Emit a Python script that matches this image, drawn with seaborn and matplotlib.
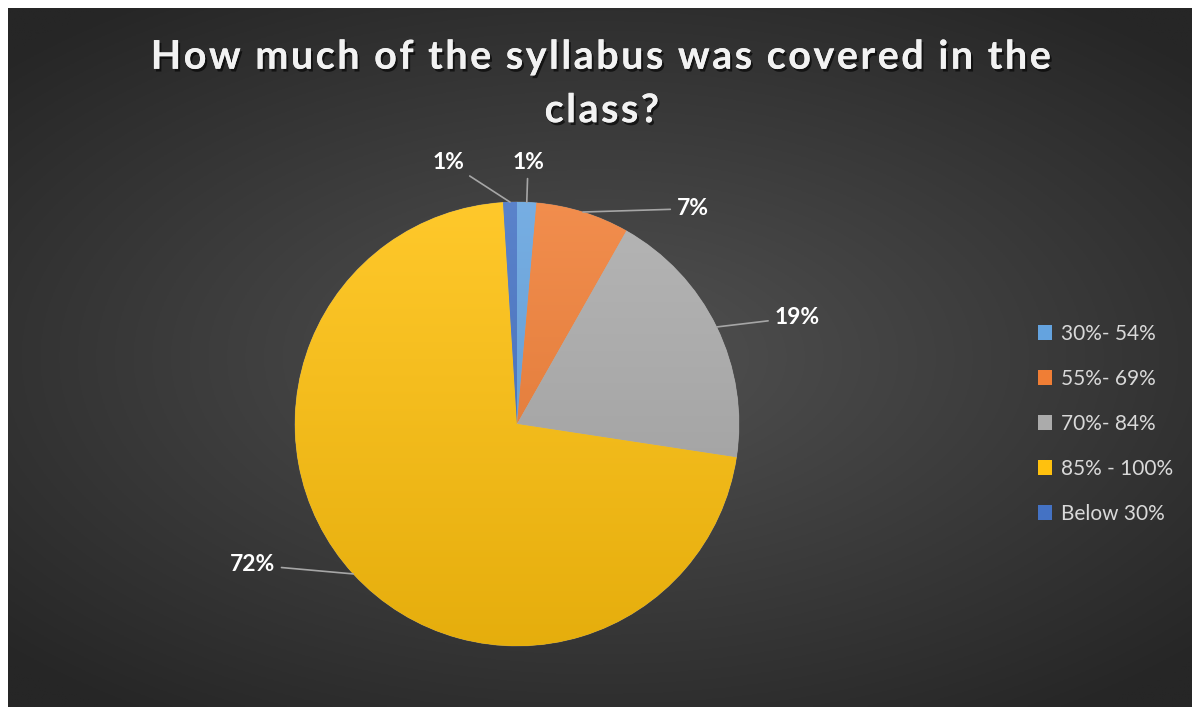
import numpy as np
import matplotlib
matplotlib.use('Agg')
import matplotlib.pyplot as plt
import matplotlib.patheffects as pe
from matplotlib.colors import to_rgb
import seaborn as sns

# data (share of responses, %)
categories = ['30%- 54%', '55%- 69%', '70%- 84%', '85% - 100%', 'Below 30%']
shares = [1.4, 6.8, 19.2, 71.6, 1.0]
shown_labels = ['1%', '7%', '19%', '72%', '1%']
colors = ['#64A3DF', '#F07E35', '#ABABAB', '#FFC10E', '#4472C4']
title_lines = ['How much of the syllabus was covered in the', 'class?']

# label offsets in pie-radius units (layout only)
label_pos = [(0.05, 1.18), (0.79, 0.97), (1.26, 0.48), (-1.19, -0.635), (-0.31, 1.18)]

sns.set_theme(style='white')
plt.rcParams['font.family'] = ['Lato', 'DejaVu Sans']

W, H = 1192, 707
fig = plt.figure(figsize=(W / 100, H / 100), dpi=100)
fig.patch.set_facecolor('white')

# dark radial background, white strip at left/top like the reference
bg = fig.add_axes([8 / W, 0, 1 - 8 / W, 1 - 8 / H])
yy, xx = np.mgrid[-1:1:300j, -1:1:500j]
rr = np.sqrt((xx * 0.9) ** 2 + (yy * 1.0) ** 2)
rr = np.clip(rr / 1.25, 0, 1)
c_in, c_out = np.array([0x52, 0x52, 0x52]) / 255, np.array([0x26, 0x26, 0x26]) / 255
img = c_in[None, None, :] * (1 - rr[..., None]) + c_out[None, None, :] * rr[..., None]
bg.imshow(img, aspect='auto', extent=(0, 1, 0, 1))
bg.set_axis_off()

# pie axes: center ~(517, 424) px, radius ~222 px
r_px = 222
span = 1.5
size = 2 * span * r_px
ax = fig.add_axes([(517 - size / 2) / W, (H - 424 - size / 2) / H, size / W, size / H])
ax.set_axis_off()

wedges, _ = ax.pie(shares, colors=colors, startangle=90, counterclock=False,
                   radius=1, wedgeprops=dict(linewidth=0.6, edgecolor=(1, 1, 1, 0.25)))

# vertical gradient inside each wedge
grad = np.linspace(0, 1, 256)[:, None]
for w, c in zip(wedges, colors):
    base = np.array(to_rgb(c))
    top = base + (1 - base) * 0.12
    bot = base * 0.9
    g = top[None, None, :] * (1 - grad[..., None]) + bot[None, None, :] * grad[..., None]
    g = np.repeat(g, 2, axis=1)
    im = ax.imshow(g, extent=(-1, 1, -1, 1), aspect='auto', zorder=w.get_zorder() + 0.1)
    im.set_clip_path(w)
ax.set_xlim(-span, span)
ax.set_ylim(-span, span)

# data labels with leader lines
for w, lab, (tx, ty) in zip(wedges, shown_labels, label_pos):
    mid = np.deg2rad((w.theta1 + w.theta2) / 2)
    px, py = np.cos(mid), np.sin(mid)
    ax.annotate(lab, xy=(px, py), xytext=(tx, ty), ha='center', va='center',
                fontsize=16.5, fontweight='bold', color='white', zorder=5,
                arrowprops=dict(arrowstyle='-', color='#A6A6A6', lw=1.2,
                                shrinkA=2, shrinkB=0))

# title with a little letter spacing (hair spaces between letters)
spaced = '\n'.join('\u200a'.join(line) for line in title_lines)
title = fig.text(602 / W, 1 - 84 / H, spaced,
                 ha='center', va='center', fontsize=28.5, fontweight='bold', color='#F2F2F2',
                 linespacing=1.55)
title.set_path_effects([pe.withSimplePatchShadow(offset=(1.5, -2), shadow_rgbFace='black', alpha=0.6),
                        pe.Normal()])

leg = ax.legend(wedges, categories, loc='center left',
                bbox_to_anchor=(1019 / W, 1 - 424 / H), bbox_transform=fig.transFigure,
                frameon=False, fontsize=15, labelspacing=1.2,
                handlelength=0.7, handleheight=0.7, handletextpad=0.4)
for t in leg.get_texts():
    t.set_color('#D9D9D9')
for h in leg.legend_handles:
    h.set_edgecolor('none')

fig.savefig('out.png', dpi=100, facecolor=fig.get_facecolor())
